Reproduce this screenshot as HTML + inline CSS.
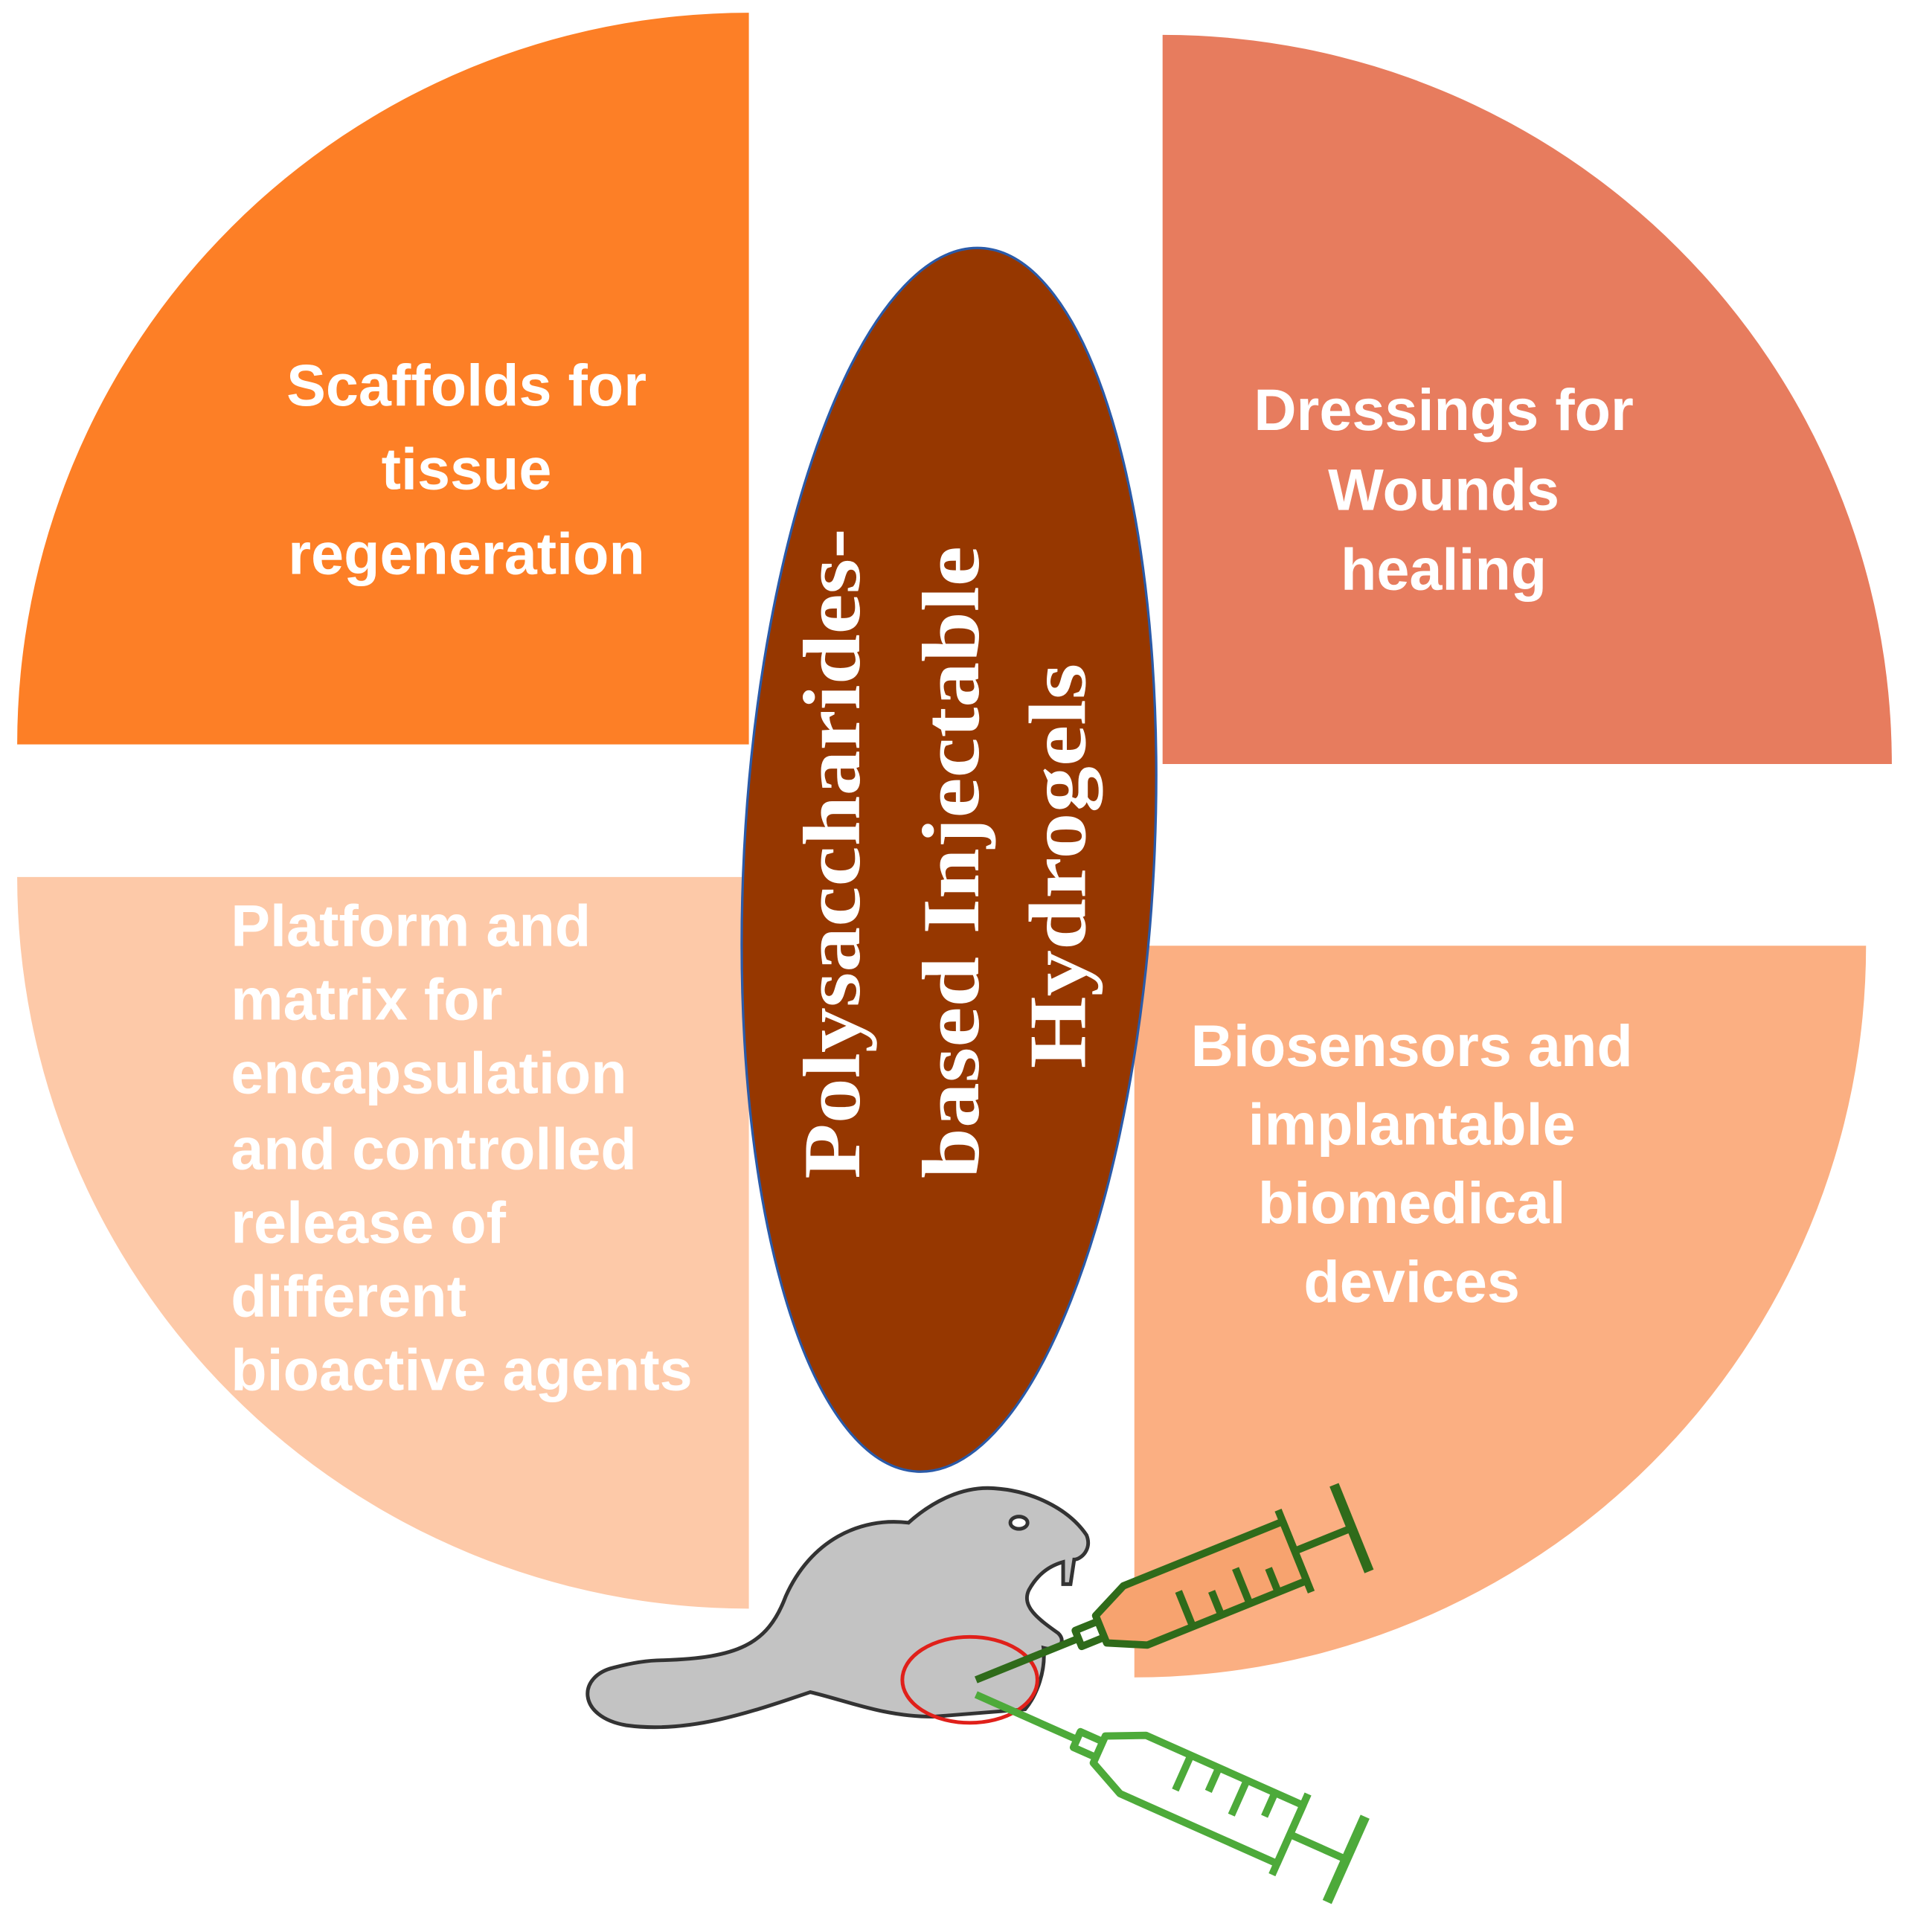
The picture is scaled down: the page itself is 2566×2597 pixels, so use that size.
<!DOCTYPE html>
<html><head><meta charset="utf-8"><style>
html,body{margin:0;padding:0;background:#fff;}
svg{display:block;}
.t{font-family:"Liberation Sans",sans-serif;font-weight:bold;fill:#fff;font-size:48px;}
.s{font-family:"Liberation Serif",serif;font-weight:bold;fill:#fff;font-size:66px;}
</style></head><body>
<svg width="2566" height="2597" viewBox="0 0 1555 1573" xmlns="http://www.w3.org/2000/svg">
<rect width="1555" height="1573" fill="#fff"/>
<path d="M610,606 L14,606 A596,596 0 0 1 610,10 Z" fill="#FD7F26"/>
<path d="M947,622 L947,28 A594,594 0 0 1 1541,622 Z" fill="#E77C5E"/>
<path d="M610,714 L14,714 A596,596 0 0 0 610,1310 Z" fill="#FDC9A8"/>
<path d="M924,770 L1520,770 A596,596 0 0 1 924,1366 Z" fill="#FBAF82"/>
<g class="t" text-anchor="middle">
<text x="380" y="330">Scaffolds for</text>
<text x="380" y="398">tissue</text>
<text x="380" y="467">regeneration</text>
<text x="1176" y="350">Dressings for</text>
<text x="1176" y="415">Wounds</text>
<text x="1176" y="480">healing</text>
<text x="1150" y="868">Biosensors and</text>
<text x="1150" y="932">implantable</text>
<text x="1150" y="996">biomedical</text>
<text x="1150" y="1060">devices</text>
</g>
<g class="t">
<text x="188" y="770">Platform and</text>
<text x="188" y="830">matrix for</text>
<text x="188" y="890">encapsulation</text>
<text x="188" y="952">and controlled</text>
<text x="188" y="1012">release of</text>
<text x="188" y="1072">different</text>
<text x="188" y="1132">bioactive agents</text>
</g>
<ellipse cx="773" cy="700" rx="167" ry="499" transform="rotate(3 773 700)" fill="#963700" stroke="#2a5aa8" stroke-width="2"/>
<g class="s" text-anchor="middle">
<text transform="translate(700,695) rotate(-90)" textLength="530" lengthAdjust="spacingAndGlyphs">Polysaccharides-</text>
<text transform="translate(797,702) rotate(-90)" textLength="515" lengthAdjust="spacingAndGlyphs">based Injectable</text>
<text transform="translate(884,705) rotate(-90)" textLength="330" lengthAdjust="spacingAndGlyphs">Hydrogels</text>
</g>
<path d="M540,1352 C600,1350 625,1340 640,1300 C660,1255 700,1235 740,1240 C760,1222 785,1210 810,1212 C840,1214 870,1228 885,1250 C890,1262 880,1270 875,1270 L872,1290 L866,1290 L866,1272 C855,1275 845,1282 838,1295 C832,1308 845,1318 862,1330 C870,1338 860,1345 850,1342 C852,1360 845,1380 835,1392 L760,1398 C720,1398 690,1385 660,1378 C610,1395 560,1412 510,1405 C470,1398 470,1365 500,1358 C515,1354 528,1352 540,1352 Z" fill="#C3C3C3" stroke="#333" stroke-width="3"/>
<ellipse cx="830" cy="1240" rx="7" ry="5" fill="#fff" stroke="#333" stroke-width="3"/>
<ellipse cx="790" cy="1368" rx="55" ry="35" fill="none" stroke="#e0201a" stroke-width="3"/>
<g transform="translate(795,1368) rotate(-22)" fill="none" stroke="#2F6B1A" stroke-width="6" stroke-linejoin="round">
<line x1="0" y1="0" x2="90" y2="0"/>
<path d="M90,-7 L110,-7 L110,7 L90,7 Z"/>
<path d="M110,-12 L140,-26 L280,-26 L280,26 L140,26 L110,12 Z" fill="#F7A36F"/>
<line x1="180" y1="26" x2="180" y2="-5"/><line x1="205" y1="26" x2="205" y2="5"/><line x1="230" y1="26" x2="230" y2="-5"/><line x1="255" y1="26" x2="255" y2="5"/>
<line x1="280" y1="-36" x2="280" y2="36"/>
<line x1="280" y1="0" x2="330" y2="0"/>
<line x1="330" y1="-38" x2="330" y2="38" stroke-width="8"/>
</g>
<g transform="translate(795,1380) rotate(24)" fill="none" stroke="#4DAA3A" stroke-width="6" stroke-linejoin="round">
<line x1="0" y1="0" x2="90" y2="0"/>
<path d="M90,-7 L110,-7 L110,7 L90,7 Z"/>
<path d="M110,-12 L140,-26 L280,-26 L280,26 L140,26 L110,12 Z" fill="#fff"/>
<line x1="180" y1="-26" x2="180" y2="5"/><line x1="205" y1="-26" x2="205" y2="-5"/><line x1="230" y1="-26" x2="230" y2="5"/><line x1="255" y1="-26" x2="255" y2="-5"/>
<line x1="280" y1="-36" x2="280" y2="36"/>
<line x1="280" y1="0" x2="330" y2="0"/>
<line x1="330" y1="-38" x2="330" y2="38" stroke-width="8"/>
</g>
</svg>
</body></html>
